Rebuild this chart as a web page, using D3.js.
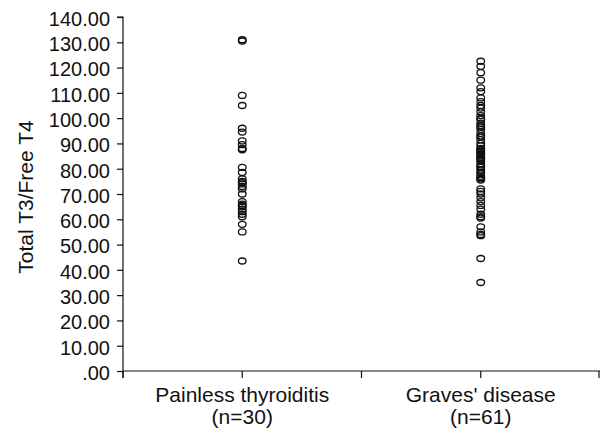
<!DOCTYPE html>
<html>
<head>
<meta charset="utf-8">
<script src="https://cdn.jsdelivr.net/npm/d3@7/dist/d3.min.js"></script>
<style>
  html, body { margin: 0; padding: 0; background: #fff; }
  svg { display: block; }
  text { font-family: "Liberation Sans", Arial, sans-serif; fill: #111; }
</style>
</head>
<body>
<svg id="chart" width="601" height="430"></svg>
<script>
const categories = ["Painless thyroiditis", "Graves' disease"];
const categoryCounts = ["(n=30)", "(n=61)"];
const painlessValues = [131, 130.5, 109, 105, 96, 94.5, 91, 89.5, 88, 87.5, 80.5, 78.5,
  76, 75, 74.5, 74, 73, 72, 70, 67, 66, 65.5, 65, 64, 63, 62, 61, 58, 55, 43.5];
const gravesValues = [122.5, 120.5, 118, 115, 112, 110.5, 108, 106.5, 105, 104, 102.5, 101,
  100, 99.5, 98, 97, 96.5, 95.5, 94, 93, 92.5, 91.5, 90, 89, 88, 87.5, 87, 86.5, 86, 85.5,
  85, 84.5, 84, 83.5, 83, 82, 81, 80.5, 79.5, 78.5, 78, 77, 76.5, 76, 75.5, 72, 71, 70,
  68.5, 67, 65.5, 64, 62, 61, 60.5, 57, 55, 54, 53.5, 44.5, 35];
const yTicks = [0, 10, 20, 30, 40, 50, 60, 70, 80, 90, 100, 110, 120, 130, 140];
const yTitle = "Total T3/Free T4";

(function () {
const svg = d3.select("#chart");
const mLeft = 123, mRight = 600, mTop = 17, mBottom = 371;

const y = d3.scaleLinear().domain([0, 140]).range([mBottom, mTop]);
const x = d3.scaleBand().domain(categories).range([mLeft, mRight]).paddingInner(0).paddingOuter(0);
const xc = c => x(c) + x.bandwidth() / 2;

// Y axis
const yAxis = d3.axisLeft(y).tickValues(yTicks).tickSize(6).tickPadding(7)
  .tickFormat(d => d === 0 ? ".00" : d3.format(".2f")(d));
const gy = svg.append("g").attr("transform", `translate(${mLeft},0)`).call(yAxis);
gy.select(".domain").attr("d", `M-6,${mTop}H0V${mBottom + 7}`).attr("stroke", "#111").attr("stroke-width", 1.2);
gy.selectAll(".tick line").attr("stroke", "#111").attr("stroke-width", 1.2);
gy.selectAll(".tick text").attr("font-size", 20).attr("dy", "0.42em")
  .style("font-family", "'Liberation Sans', Arial, sans-serif").attr("fill", "#111");

// X axis
const xTickPositions = [mLeft, xc(categories[0]), x(categories[1]), xc(categories[1]), mRight - 1];
const gx = svg.append("g").attr("transform", `translate(0,${mBottom})`);
gx.append("line").attr("x1", mLeft).attr("x2", mRight).attr("y1", 0).attr("y2", 0)
  .attr("stroke", "#111").attr("stroke-width", 1.2);
gx.selectAll("line.tk").data(xTickPositions).join("line").attr("class", "tk")
  .attr("x1", d => d).attr("x2", d => d).attr("y1", 0).attr("y2", 7)
  .attr("stroke", "#111").attr("stroke-width", 1.2);

const labels = svg.append("g");
categories.forEach((c, i) => {
  const t = labels.append("text").attr("x", xc(c)).attr("text-anchor", "middle").attr("font-size", 21);
  t.append("tspan").attr("x", xc(c)).attr("y", 402).text(c);
  t.append("tspan").attr("x", xc(c)).attr("y", 424).text(categoryCounts[i]);
});

// Y title
svg.append("text").attr("transform", "translate(33,197) rotate(-90)")
  .attr("text-anchor", "middle").attr("font-size", 21).text(yTitle);

// Points
const series = [painlessValues, gravesValues];
series.forEach((vals, i) => {
  svg.append("g").selectAll("ellipse").data(vals).join("ellipse")
    .attr("cx", xc(categories[i]))
    .attr("cy", d => y(d))
    .attr("rx", 3.8).attr("ry", 3)
    .attr("fill", "none").attr("stroke", "#111").attr("stroke-width", 1.3);
});
})();
</script>
</body>
</html>
